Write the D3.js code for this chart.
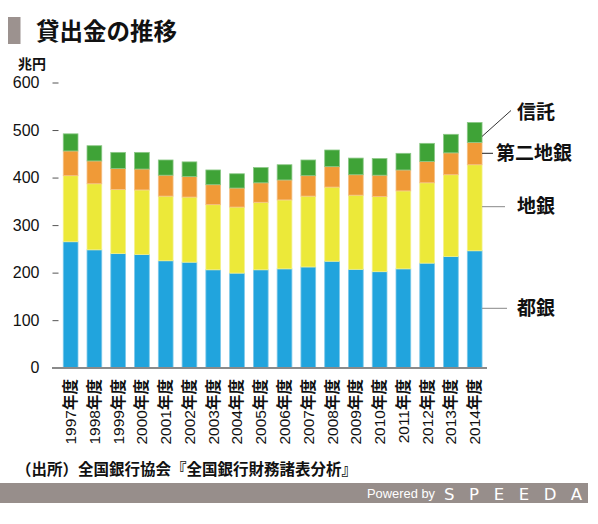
<!DOCTYPE html>
<html>
<head>
<meta charset="utf-8">
<script src="https://cdn.jsdelivr.net/npm/d3@7"></script>
<style>
  body { margin: 0; background: #fff; }
  svg { display: block; font-family: "Noto Sans CJK JP", "Liberation Sans", sans-serif; }
</style>
</head>
<body>
<div id="chart"></div>
<script>
// 年度
const years = ["1997", "1998", "1999", "2000", "2001", "2002", "2003", "2004", "2005",
  "2006", "2007", "2008", "2009", "2010", "2011", "2012", "2013", "2014"];
// 兆円
const togin    = [265, 248, 240, 238, 225, 222, 206, 199, 206, 208, 212, 224, 207, 202, 208, 220, 234, 246];
const chigin   = [139, 139, 135, 136, 136, 137, 137, 139, 142, 145, 149, 156, 156, 158, 164, 169, 172, 181];
const dainiChigin = [52, 48, 44, 44, 44, 43, 42, 40, 41, 42, 43, 43, 43, 45, 44, 45, 46, 47];
const shintaku = [36, 32, 34, 35, 32, 31, 31, 30, 32, 32, 33, 35, 35, 35, 35, 38, 39, 42];
const yTicks = [0, 100, 200, 300, 400, 500, 600];

const seriesKeys = ["都銀", "地銀", "第二地銀", "信託"];
const colors = { "都銀": "#21a4dd", "地銀": "#ece939", "第二地銀": "#f09a37", "信託": "#3fa337" };
const edge = { "都銀": "#7cc8ea", "地銀": "#f4f18c", "第二地銀": "#f5c086", "信託": "#8cc887" };

const table = years.map((y, i) => ({
  year: y, "都銀": togin[i], "地銀": chigin[i], "第二地銀": dainiChigin[i], "信託": shintaku[i]
}));

const width = 598, height = 524;
const svg = d3.select("#chart").append("svg")
  .attr("width", width).attr("height", height);

// title
svg.append("rect").attr("x", 8).attr("y", 17).attr("width", 12.5).attr("height", 27).attr("fill", "#9c928f");
svg.append("text").attr("x", 36).attr("y", 40)
  .attr("font-size", 23.5).attr("font-weight", "bold").attr("fill", "#111")
  .text("貸出金の推移");

// scales
const x = d3.scaleBand().domain(years).range([58.5, 486.8]).paddingInner(0.38).paddingOuter(0.2);
const y = d3.scaleLinear().domain([0, 600]).range([367.7, 82.5]);

// unit
svg.append("text").attr("x", 18).attr("y", 69)
  .attr("font-size", 14).attr("font-weight", "bold").attr("fill", "#111").text("兆円");

// y axis ticks
const yAxis = svg.append("g").attr("transform", "translate(58.5,0)")
  .call(d3.axisLeft(y).tickValues(yTicks).tickSize(6).tickPadding(13).tickFormat(d3.format("d")));
yAxis.select(".domain").remove();
yAxis.selectAll(".tick line").attr("stroke", "#555");
yAxis.selectAll(".tick text").attr("font-size", 16).attr("fill", "#111")
  .attr("font-family", "Liberation Sans, sans-serif");

// bars
const stacked = d3.stack().keys(seriesKeys)(table);
svg.append("g").selectAll("g").data(stacked).join("g")
  .attr("fill", d => colors[d.key])
  .attr("stroke", d => edge[d.key])
  .attr("stroke-width", 0.8)
  .selectAll("rect").data(d => d).join("rect")
  .attr("x", d => x(d.data.year))
  .attr("y", d => y(d[1]))
  .attr("width", x.bandwidth())
  .attr("height", d => y(d[0]) - y(d[1]));

// baseline
svg.append("line").attr("x1", 52).attr("x2", 487).attr("y1", 368).attr("y2", 368)
  .attr("stroke", "#8a8a8a").attr("stroke-width", 2);

// x labels
svg.append("g").selectAll("text").data(years).join("text")
  .attr("transform", d => `translate(${x(d) + x.bandwidth() / 2 + 5.5},${379}) rotate(-90)`)
  .attr("text-anchor", "end")
  .attr("font-size", 15.5).attr("font-weight", "bold").attr("fill", "#111")
  .selectAll("tspan").data(d => [d, "年度"]).join("tspan")
  .attr("font-family", (d, i) => i === 0 ? "Liberation Sans, sans-serif" : "Noto Sans CJK JP")
  .attr("font-weight", (d, i) => i === 0 ? "normal" : "bold")
  .text(d => d);

// series annotations at the last bar
const last = stacked.map(s => s[s.length - 1]);
const lx = x(years[years.length - 1]) + x.bandwidth();
const ann = [
  { key: "信託", x2: 511, ty: 119, tx: 517, line: "#333" },
  { key: "第二地銀", x2: 493, ty: 160, tx: 496, line: "#222" },
  { key: "地銀", x2: 505, ty: 213, tx: 517, line: "#888" },
  { key: "都銀", x2: 507, ty: 315, tx: 517, line: "#888" }
];
ann.forEach(a => {
  const seg = last[seriesKeys.indexOf(a.key)];
  let y1, y2;
  if (a.key === "信託") { y1 = y(seg[1]) + 14; y2 = 110.5; }
  else if (a.key === "第二地銀") { y1 = y2 = 153.3; }
  else { y1 = y2 = (a.key === "地銀" ? 206.7 : 308.3); }
  svg.append("line").attr("x1", lx).attr("x2", a.x2).attr("y1", y1).attr("y2", y2)
    .attr("stroke", a.line).attr("stroke-width", 1);
  svg.append("text").attr("x", a.tx).attr("y", a.ty)
    .attr("font-size", 19).attr("font-weight", "bold").attr("fill", "#111").text(a.key);
});

// source
svg.append("text").attr("x", 16).attr("y", 475)
  .attr("font-size", 15.5).attr("font-weight", "bold").attr("fill", "#111")
  .text("（出所）全国銀行協会『全国銀行財務諸表分析』");

// footer band
svg.append("rect").attr("x", 0).attr("y", 483).attr("width", 588).attr("height", 20).attr("fill", "#978e8b");
svg.append("text").attr("x", 367).attr("y", 498)
  .attr("font-size", 13.5).attr("fill", "#fff").attr("font-family", "Liberation Sans, sans-serif")
  .attr("textLength", 68).attr("lengthAdjust", "spacingAndGlyphs")
  .text("Powered by");
svg.append("text").attr("x", 444).attr("y", 499.5)
  .attr("font-size", 16.5).attr("fill", "#fff")
  .attr("font-family", "DejaVu Sans, sans-serif")
  .attr("textLength", 138).attr("lengthAdjust", "spacing")
  .text("SPEEDA");
</script>
</body>
</html>
